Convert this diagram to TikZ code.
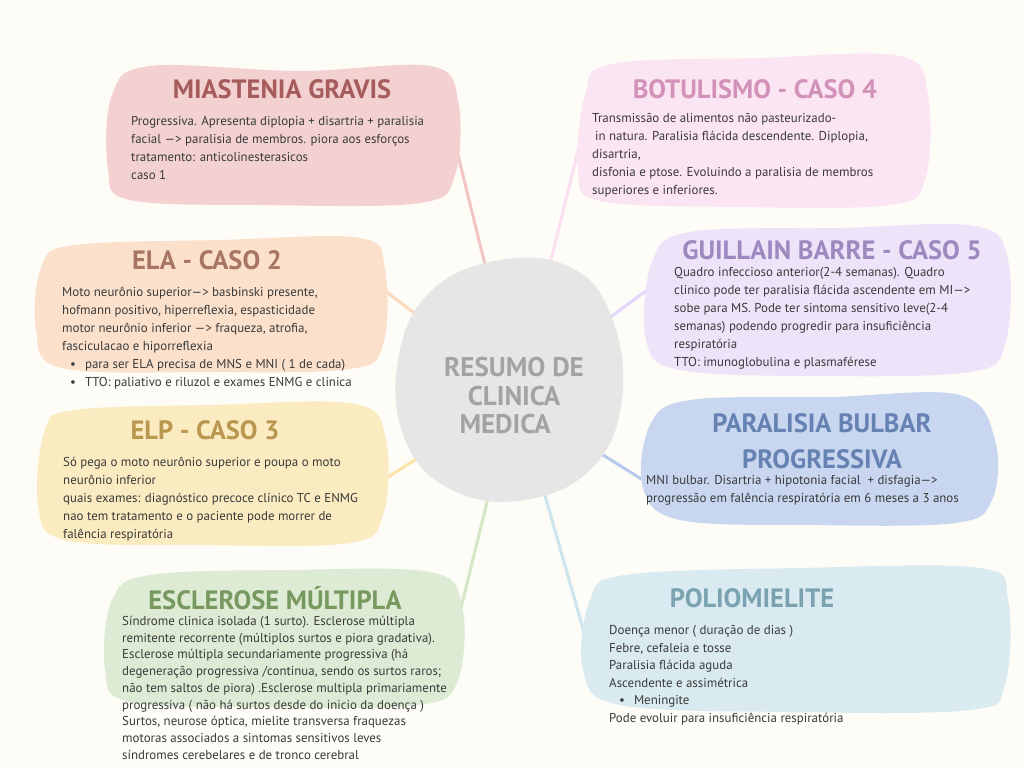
\documentclass[tikz,border=0pt]{standalone}
\usepackage{fontspec}
\setmainfont{PT Sans}

\definecolor{bg}{HTML}{FDFCF7}
\definecolor{bodytext}{HTML}{3A3A3A}
\definecolor{hubfill}{HTML}{E6E6E6}
\definecolor{hubtext}{HTML}{A3A3A3}
\definecolor{mgfill}{HTML}{F3D1D1}\definecolor{mgtitle}{HTML}{A65B5C}\definecolor{mglink}{HTML}{F2C5C5}
\definecolor{botfill}{HTML}{FCE5F2}\definecolor{bottitle}{HTML}{D291B8}\definecolor{botlink}{HTML}{FBE0F0}
\definecolor{elafill}{HTML}{FBE1CB}\definecolor{elatitle}{HTML}{A87562}\definecolor{elalink}{HTML}{FAD9BD}
\definecolor{gbfill}{HTML}{EDE4F9}\definecolor{gbtitle}{HTML}{9D89C0}\definecolor{gblink}{HTML}{E2D8FB}
\definecolor{elpfill}{HTML}{FBEBC1}\definecolor{elptitle}{HTML}{B9974F}\definecolor{elplink}{HTML}{FCE4A8}
\definecolor{pbpfill}{HTML}{C8D6F0}\definecolor{pbptitle}{HTML}{6682B3}\definecolor{pbplink}{HTML}{B8C9F0}
\definecolor{emfill}{HTML}{DDEBD4}\definecolor{emtitle}{HTML}{77985F}\definecolor{emlink}{HTML}{D6E7C6}
\definecolor{polfill}{HTML}{D9EBF0}\definecolor{poltitle}{HTML}{7BA2B0}\definecolor{pollink}{HTML}{CDE5EE}

\begin{document}
\begin{tikzpicture}[x=1pt, y=-1pt,
  title/.style={font=\fontsize{26.5}{36}\selectfont\bfseries, inner sep=0pt, align=center},
  body/.style={font=\fontsize{12.9}{18}\selectfont, align=left, anchor=north west, inner sep=0pt, text=bodytext},
  link/.style={line width=3pt},
  blob/.style={smooth cycle, tension=0.6}]
  \useasboundingbox[fill=bg] (0,0) rectangle (1024,768);

  % connectors
  \coordinate (mg-c) at (455,143);   \coordinate (hub-mg) at (490,285);
  \coordinate (bot-c) at (580,143);  \coordinate (hub-bot) at (546,280);
  \coordinate (ela-c) at (384,290);  \coordinate (hub-ela) at (430,325);
  \coordinate (gb-c) at (646,291);   \coordinate (hub-gb) at (605,321);
  \coordinate (elp-c) at (385,479);  \coordinate (hub-elp) at (432,449);
  \coordinate (pbp-c) at (643,480);  \coordinate (hub-pbp) at (595,450);
  \coordinate (em-c) at (456,628);   \coordinate (hub-em) at (490,490);
  \coordinate (pol-c) at (584,632);  \coordinate (hub-pol) at (542,485);
  \draw[link, mglink] (mg-c) -- (hub-mg);
  \draw[link, botlink] (bot-c) -- (hub-bot);
  \draw[link, elalink] (ela-c) -- (hub-ela);
  \draw[link, gblink] (gb-c) -- (hub-gb);
  \draw[link, elplink] (elp-c) -- (hub-elp);
  \draw[link, pbplink] (pbp-c) -- (hub-pbp);
  \draw[link, emlink] (em-c) -- (hub-em);
  \draw[link, pollink] (pol-c) -- (hub-pol);

  % blobs
  \fill[mgfill] plot[blob] coordinates {(150,66) (300,71) (430,66) (458,100) (455,175) (420,203) (260,205) (130,200) (108,170) (112,95)};
  \fill[botfill] plot[blob] coordinates {(612,64) (760,58) (900,56) (928,95) (925,180) (890,205) (740,207) (600,201) (578,170) (585,95)};
  \fill[elafill] plot[blob] coordinates {(75,245) (220,240) (360,238) (385,270) (383,345) (350,369) (210,372) (62,368) (36,330) (42,265)};
  \fill[gbfill] plot[blob] coordinates {(690,232) (840,228) (975,226) (1008,260) (1005,345) (970,372) (820,376) (680,370) (646,340) (652,262)};
  \fill[elpfill] plot[blob] coordinates {(75,410) (210,405) (355,404) (386,440) (383,515) (350,543) (200,545) (65,540) (38,505) (45,430)};
  \fill[pbpfill] plot[blob] coordinates {(690,400) (830,397) (960,395) (995,440) (992,500) (955,523) (810,525) (680,520) (643,488) (650,425)};
  \fill[emfill] plot[blob] coordinates {(150,575) (290,570) (430,572) (462,605) (458,680) (420,705) (270,707) (130,702) (105,670) (112,600)};
  \fill[polfill] plot[blob] coordinates {(625,575) (800,568) (980,568) (1008,600) (1005,685) (970,710) (790,712) (620,705) (583,670) (590,600)};
  \fill[hubfill] plot[smooth cycle, tension=0.7] coordinates {(500,260) (572,268) (612,318) (622,400) (592,468) (525,500) (452,490) (405,440) (398,360) (430,292)};

  % titles
  \node[title, text=mgtitle] (mg) at (282,89) {MIASTENIA GRAVIS};
  \node[title, text=bottitle] (bot) at (755,89) {BOTULISMO - CASO 4};
  \node[title, text=elatitle] (ela) at (207,260) {ELA - CASO 2};
  \node[title, text=gbtitle] (gb) at (832,250) {GUILLAIN BARRE - CASO 5};
  \node[title, text=elptitle] (elp) at (205,430) {ELP - CASO 3};
  \node[title, text=pbptitle] (pbp) at (822,441) {PARALISIA BULBAR\\PROGRESSIVA};
  \node[title, text=emtitle] (em) at (275,598) {ESCLEROSE MÚLTIPLA};
  \node[title, text=poltitle] (pol) at (752,598) {POLIOMIELITE};
  \node[title, text=hubtext, font=\fontsize{27}{28.5}\selectfont\bfseries] (hub) at (514,396) {RESUMO DE\\CLINICA\\MEDICA\hphantom{--}};

  % texts
  \node[body] (mg-t) at (131,116) {Progressiva. Apresenta diplopia + disartria + paralisia\\
    facial —> paralisia de membros. piora aos esforços\\
    tratamento: anticolinesterasicos\\
    caso 1};
  \node[body] (bot-t) at (592,113) {Transmissão de alimentos não pasteurizado-\\
    \hspace*{3pt}in natura. Paralisia flácida descendente. Diplopia,\\
    disartria,\\
    disfonia e ptose. Evoluindo a paralisia de membros\\
    superiores e inferiores.};
  \node[body] (ela-t) at (62,287) {Moto neurônio superior—> basbinski presente,\\
    hofmann positivo, hiperreflexia, espasticidade\\
    motor neurônio inferior —> fraqueza, atrofia,\\
    fasciculacao e hiporreflexia\\
    \hspace*{8pt}•\hspace*{9pt}para ser ELA precisa de MNS e MNI ( 1 de cada)\\
    \hspace*{8pt}•\hspace*{9pt}TTO: paliativo e riluzol e exames ENMG e clinica};
  \node[body] (gb-t) at (674,267) {Quadro infeccioso anterior(2-4 semanas). Quadro\\
    clinico pode ter paralisia flácida ascendente em MI—>\\
    sobe para MS. Pode ter sintoma sensitivo leve(2-4\\
    semanas) podendo progredir para insuficiência\\
    respiratória\\
    TTO: imunoglobulina e plasmaférese};
  \node[body] (elp-t) at (63,457) {Só pega o moto neurônio superior e poupa o moto\\
    neurônio inferior\\
    quais exames: diagnóstico precoce clínico TC e ENMG\\
    nao tem tratamento e o paciente pode morrer de\\
    falência respiratória};
  \node[body] (pbp-t) at (646,475) {MNI bulbar. Disartria + hipotonia facial\ \ + disfagia—>\\
    progressão em falência respiratória em 6 meses a 3 anos};
  \node[body, font=\fontsize{12.9}{16.75}\selectfont] (em-t) at (122,616) {Síndrome clinica isolada (1 surto). Esclerose múltipla\\
    remitente recorrente (múltiplos surtos e piora gradativa).\\
    Esclerose múltipla secundariamente progressiva (há\\
    degeneração progressiva /continua, sendo os surtos raros;\\
    não tem saltos de piora) .Esclerose multipla primariamente\\
    progressiva ( não há surtos desde do inicio da doença )\\
    Surtos, neurose óptica, mielite transversa fraquezas\\
    motoras associados a sintomas sensitivos leves\\
    síndromes cerebelares e de tronco cerebral};
  \node[body, font=\fontsize{12.9}{17.6}\selectfont] (pol-t) at (609,625) {Doença menor ( duração de dias )\\
    Febre, cefaleia e tosse\\
    Paralisia flácida aguda\\
    Ascendente e assimétrica\\
    \hspace*{10pt}•\hspace*{9pt}Meningite\\
    Pode evoluir para insuficiência respiratória};
\end{tikzpicture}
\end{document}
